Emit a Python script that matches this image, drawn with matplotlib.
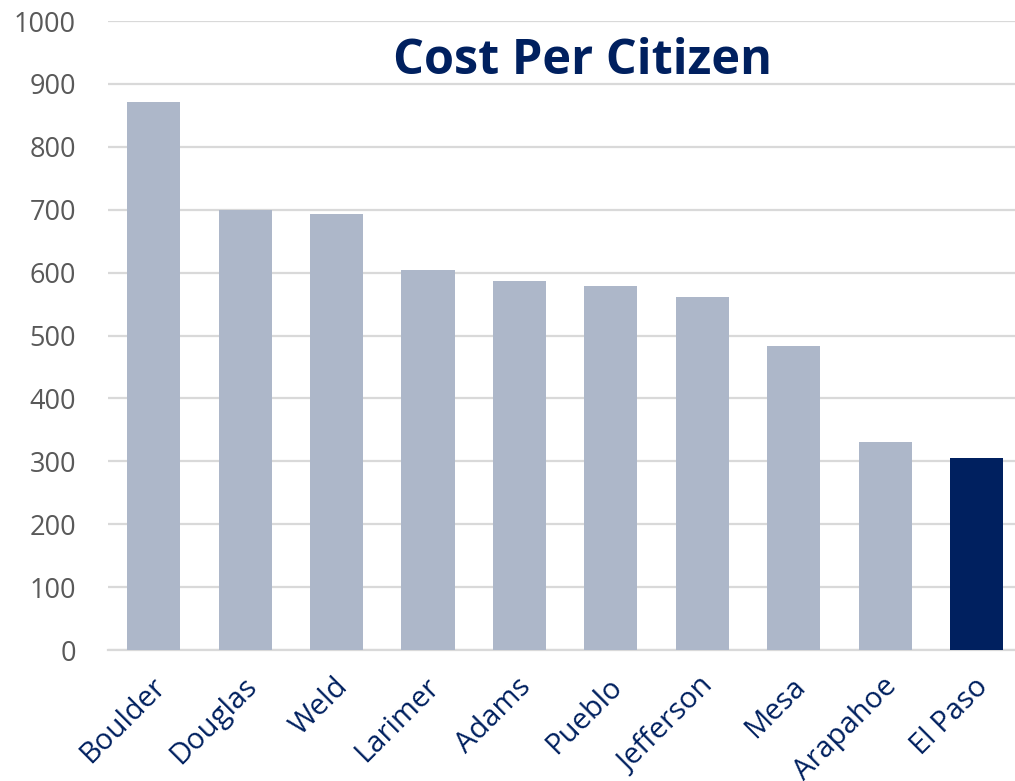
import matplotlib.pyplot as plt
from matplotlib.transforms import ScaledTranslation

# --- Dados ---
counties = ['Boulder', 'Douglas', 'Weld', 'Larimer', 'Adams', 'Pueblo',
            'Jefferson', 'Mesa', 'Arapahoe', 'El Paso']
cost = [872, 699, 694, 605, 587, 578, 562, 484, 330, 305]
highlight = 'El Paso'

# --- Cores ---
grey_bar = '#ADB7C9'
navy = '#00205F'
grid_col = '#D9D9D9'

plt.rcParams['font.family'] = ['Open Sans', 'DejaVu Sans']

fig = plt.figure(figsize=(10.15, 7.81), dpi=100)
ax = fig.add_axes([0.1064, 0.1677, 0.8936, 0.8053])

colors = [navy if c == highlight else grey_bar for c in counties]
ax.bar(range(len(counties)), cost, width=0.58, color=colors, zorder=3)

ax.set_ylim(0, 1000)
ax.set_xlim(-0.5, 9.42)
ax.set_yticks(range(0, 1001, 100))
ax.tick_params(axis='y', length=0, pad=23, labelsize=19.5, labelcolor='#595959')
ax.tick_params(axis='x', length=0, pad=16)
ax.set_xticks(range(len(counties)))
ax.set_xticklabels(counties, rotation=45, ha='right', va='top',
                   rotation_mode='anchor', fontsize=21, color=navy)
offset = ScaledTranslation(-0.03, 0, fig.dpi_scale_trans)
for lab in ax.get_xticklabels():
    lab.set_transform(lab.get_transform() + offset)

ax.grid(axis='y', color=grid_col, linewidth=1.6, zorder=0)
for s in ['top', 'right', 'left']:
    ax.spines[s].set_visible(False)
ax.spines['bottom'].set_color(grid_col)
ax.spines['bottom'].set_linewidth(1.6)

ax.text(0.5237, 0.9156, 'Cost Per Citizen', transform=ax.transAxes,
        ha='center', va='baseline', fontsize=35, fontweight='bold', color=navy)

fig.savefig('out.png', dpi=100)
